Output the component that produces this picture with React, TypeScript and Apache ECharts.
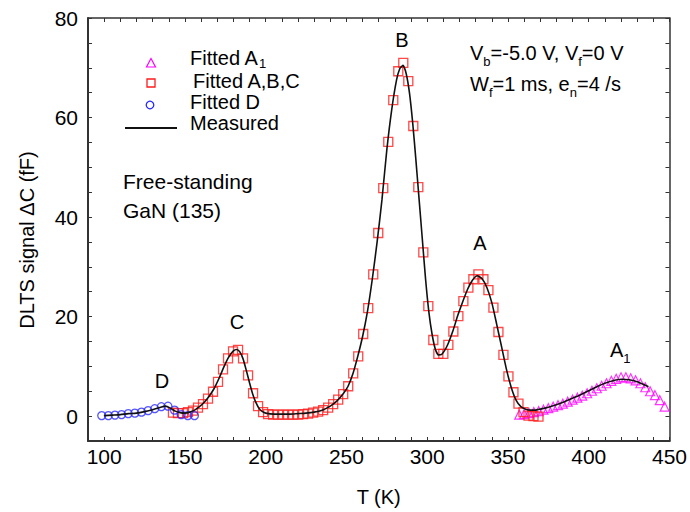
import React, { useEffect, useRef } from "react";
import * as echarts from "echarts";

const FONT = "'Liberation Sans', Arial, Helvetica, sans-serif";

// Measured DLTS spectrum
const measuredT = [100,105,110,115,120,125,130,135,138,141,144,147,150,153,156,159,162,165,168,171,174,177,180,182,184,186,188,190,192,194,196,198,200,205,210,215,220,225,230,235,240,244,248,251,254,257,260,263,266,269,272,275,278,281,283,285,287,289,291,293,295,297,299,301,303,305,307,309,311,313,316,319,322,325,328,331,334,337,340,343,346,349,352,355,358,361,364,367,370,375,380,385,390,395,400,405,410,415,420,425,430,435,437];
const measuredV = [0.1,0.2,0.3,0.5,0.6,0.9,1.3,1.8,2.0,1.6,1.0,0.7,0.6,0.8,1.2,1.9,2.8,4.0,5.5,7.5,9.8,11.8,13.1,13.4,12.9,11.5,9.2,6.7,4.4,2.7,1.5,0.9,0.6,0.4,0.4,0.4,0.5,0.6,0.8,1.2,2.0,3.0,4.5,6.0,8.5,12.0,16.0,21.0,27.5,35.0,43.5,53.5,61.5,67.5,69.8,70.5,68.8,65.0,59.0,51.5,43.5,35.5,27.5,21.0,16.5,13.5,12.3,12.4,13.3,14.6,17.2,20.3,23.0,25.5,27.3,28.2,27.6,25.8,22.8,18.5,14.0,9.5,5.8,3.2,1.9,1.4,1.2,1.2,1.4,1.8,2.3,2.9,3.6,4.3,5.1,5.9,6.6,7.1,7.4,7.3,6.9,6.2,5.9];

// Fitted A, B, C
const abcT = [142.6,145.7,148.8,151.9,155.0,158.1,161.2,164.3,167.4,170.5,173.6,176.7,179.8,182.9,186.0,189.1,192.2,195.3,198.4,201.5,204.6,207.7,210.8,213.9,217.0,220.1,223.2,226.3,229.4,232.5,235.6,238.7,241.8,244.9,248.0,251.1,254.2,257.3,260.4,263.5,266.6,269.7,272.8,275.9,279.0,282.1,285.2,288.3,291.4,294.5,297.6,300.7,303.8,306.9,310.0,313.1,316.2,319.3,322.4,325.5,328.6,331.7,334.8,337.9,341.0,344.1,347.2,350.3,353.4,356.5,359.6,362.7,365.8,368.9];
const abcV = [0.7,0.6,0.6,0.8,1.1,1.7,2.4,3.5,4.9,6.9,9.4,11.6,13.0,13.3,11.6,8.2,4.6,2.0,0.8,0.4,0.3,0.3,0.3,0.3,0.3,0.3,0.4,0.5,0.7,0.9,1.2,1.7,2.4,3.3,4.4,6.0,8.6,12.0,16.5,21.7,28.5,36.8,45.8,55.1,63.5,69.3,71.0,67.3,58.3,46.0,32.9,22.1,15.3,12.5,12.5,14.3,17.0,20.1,23.1,25.8,27.5,28.5,27.5,25.3,21.8,16.9,12.3,8.0,4.8,2.5,0.8,0.1,0.0,-0.1];

// Fitted D
const dT = [98.5,102.6,106.7,110.8,114.9,119.0,123.1,127.2,131.3,135.4,139.5,143.6,147.7,151.8,155.9];
const dV = [0.1,0.1,0.2,0.3,0.5,0.6,0.8,1.1,1.5,1.9,2.0,1.2,0.3,0.1,0.1];

// Fitted A1
const a1T = [357,360,363,366,369,372,375,378,381,384,387,390,393,396,399,402,405,408,411,414,417,420,423,426,429,432,435,438,441,444,447];
const a1V = [0.3,0.4,0.6,0.8,1.0,1.3,1.6,1.9,2.2,2.5,2.9,3.3,3.7,4.1,4.6,5.1,5.6,6.1,6.6,7.1,7.5,7.8,7.8,7.6,7.2,6.6,5.8,5.0,4.2,3.2,1.9];

const xTicks = { min: 90, max: 450, interval: 10, labelEvery: 50 };
const yTicks = { min: -5, max: 80, interval: 5, labelEvery: 20 };

const zip = (a: number[], b: number[]) => a.map((v, i) => [v, b[i]]);

const subRich = {
  s: { fontSize: 13, fontFamily: FONT, fill: "#000", lineHeight: 13, verticalAlign: "bottom" },
};

function txt(x: number, y: number, text: string, align = "left", extra: any = {}) {
  return {
    type: "text",
    x,
    y,
    z: 100,
    style: {
      text,
      fontSize: 20,
      fontFamily: FONT,
      fill: "#000",
      align,
      verticalAlign: "middle",
      lineHeight: 30,
      rich: subRich,
      ...extra,
    },
  };
}

export default function App() {
  const ref = useRef<HTMLDivElement>(null);
  useEffect(() => {
    const chart = echarts.init(ref.current!, null, { renderer: "svg" });
    const axisCommon = (isX: boolean, primary: boolean) => {
      const t = isX ? xTicks : yTicks;
      return {
        type: "value",
        min: t.min,
        max: t.max,
        interval: t.interval,
        position: isX ? (primary ? "bottom" : "top") : primary ? "left" : "right",
        axisLine: { show: true, onZero: false, lineStyle: { color: "#333", width: primary ? 2 : 1.5 } },
        axisTick: { show: true, inside: true, length: 4, lineStyle: { color: "#333", width: 1 } },
        axisLabel: {
          show: primary,
          fontSize: 21,
          fontFamily: FONT,
          color: "#000",
          margin: isX ? 5 : 10,
          formatter: (v: number) => (v % t.labelEvery === 0 ? String(v) : ""),
        },
        splitLine: { show: false },
      };
    };
    chart.setOption({
      animation: false,
      backgroundColor: "#fff",
      grid: { left: 88, right: 19, top: 18, bottom: 69, containLabel: false },
      xAxis: [
        {
          ...axisCommon(true, true),
          name: "T (K)",
          nameLocation: "middle",
          nameGap: 46,
          nameTextStyle: { fontSize: 20, fontFamily: FONT, color: "#000" },
        },
        axisCommon(true, false),
      ],
      yAxis: [axisCommon(false, true), axisCommon(false, false)],
      series: [
        {
          name: "Fitted A1",
          type: "scatter",
          data: zip(a1T, a1V),
          symbol: "triangle",
          symbolSize: 9,
          itemStyle: { color: "rgba(0,0,0,0)", borderColor: "#ff00ff", borderWidth: 1.2 },
          z: 2,
        },
        {
          name: "Fitted A,B,C",
          type: "scatter",
          data: zip(abcT, abcV),
          symbol: "rect",
          symbolSize: 9,
          itemStyle: { color: "rgba(0,0,0,0)", borderColor: "#ff1a1a", borderWidth: 1.3 },
          z: 3,
        },
        {
          name: "Fitted D",
          type: "scatter",
          data: zip(dT, dV),
          symbol: "circle",
          symbolSize: 8,
          itemStyle: { color: "rgba(0,0,0,0)", borderColor: "#2a2aff", borderWidth: 1.3 },
          z: 3,
        },
        {
          name: "Measured",
          type: "line",
          data: zip(measuredT, measuredV),
          showSymbol: false,
          symbol: "none",
          smooth: 0.2,
          lineStyle: { color: "#111", width: 1.6 },
          z: 5,
        },
      ],
      graphic: [
        // y axis name
        {
          type: "text",
          x: 27,
          y: 240,
          rotation: Math.PI / 2,
          style: { text: "DLTS signal \u0394C (fF)", fontSize: 20, fontFamily: FONT, fill: "#000", align: "center", verticalAlign: "middle" },
        },
        // legend symbols
        { type: "polygon", shape: { points: [[151, 58.5], [155.5, 67], [146.5, 67]] }, style: { fill: "none", stroke: "#ff00ff", lineWidth: 1.2 } },
        { type: "rect", shape: { x: 147, y: 79, width: 8, height: 8 }, style: { fill: "none", stroke: "#ff1a1a", lineWidth: 1.3 } },
        { type: "circle", shape: { cx: 150, cy: 105, r: 3.8 }, style: { fill: "none", stroke: "#2a2aff", lineWidth: 1.3 } },
        { type: "line", shape: { x1: 125, y1: 128, x2: 177, y2: 128 }, style: { stroke: "#111", lineWidth: 1.8 } },
        // legend texts
        txt(190, 58, "Fitted A{s|1}", "left", { lineHeight: 24 }),
        txt(193, 81, "Fitted A,B,C"),
        txt(190, 102, "Fitted D"),
        txt(190, 123, "Measured"),
        // annotations
        txt(123, 181, "Free-standing", "left", { fontSize: 21 }),
        txt(123, 210, "GaN (135)", "left", { fontSize: 21 }),
        txt(402, 40, "B", "center"),
        txt(237, 322, "C", "center"),
        txt(480, 243, "A", "center"),
        txt(162, 381, "D", "center"),
        txt(610, 350, "A{s|1}"),
        txt(470, 53, "V{s|b}=-5.0 V, V{s|f}=0 V"),
        txt(470, 84, "W{s|f}=1 ms, e{s|n}=4 /s"),
      ],
    });
    return () => chart.dispose();
  }, []);
  return (
    <div
      ref={ref}
      style={{ position: "fixed", left: 0, top: 0, width: 690, height: 512, background: "#fff" }}
    />
  );
}
